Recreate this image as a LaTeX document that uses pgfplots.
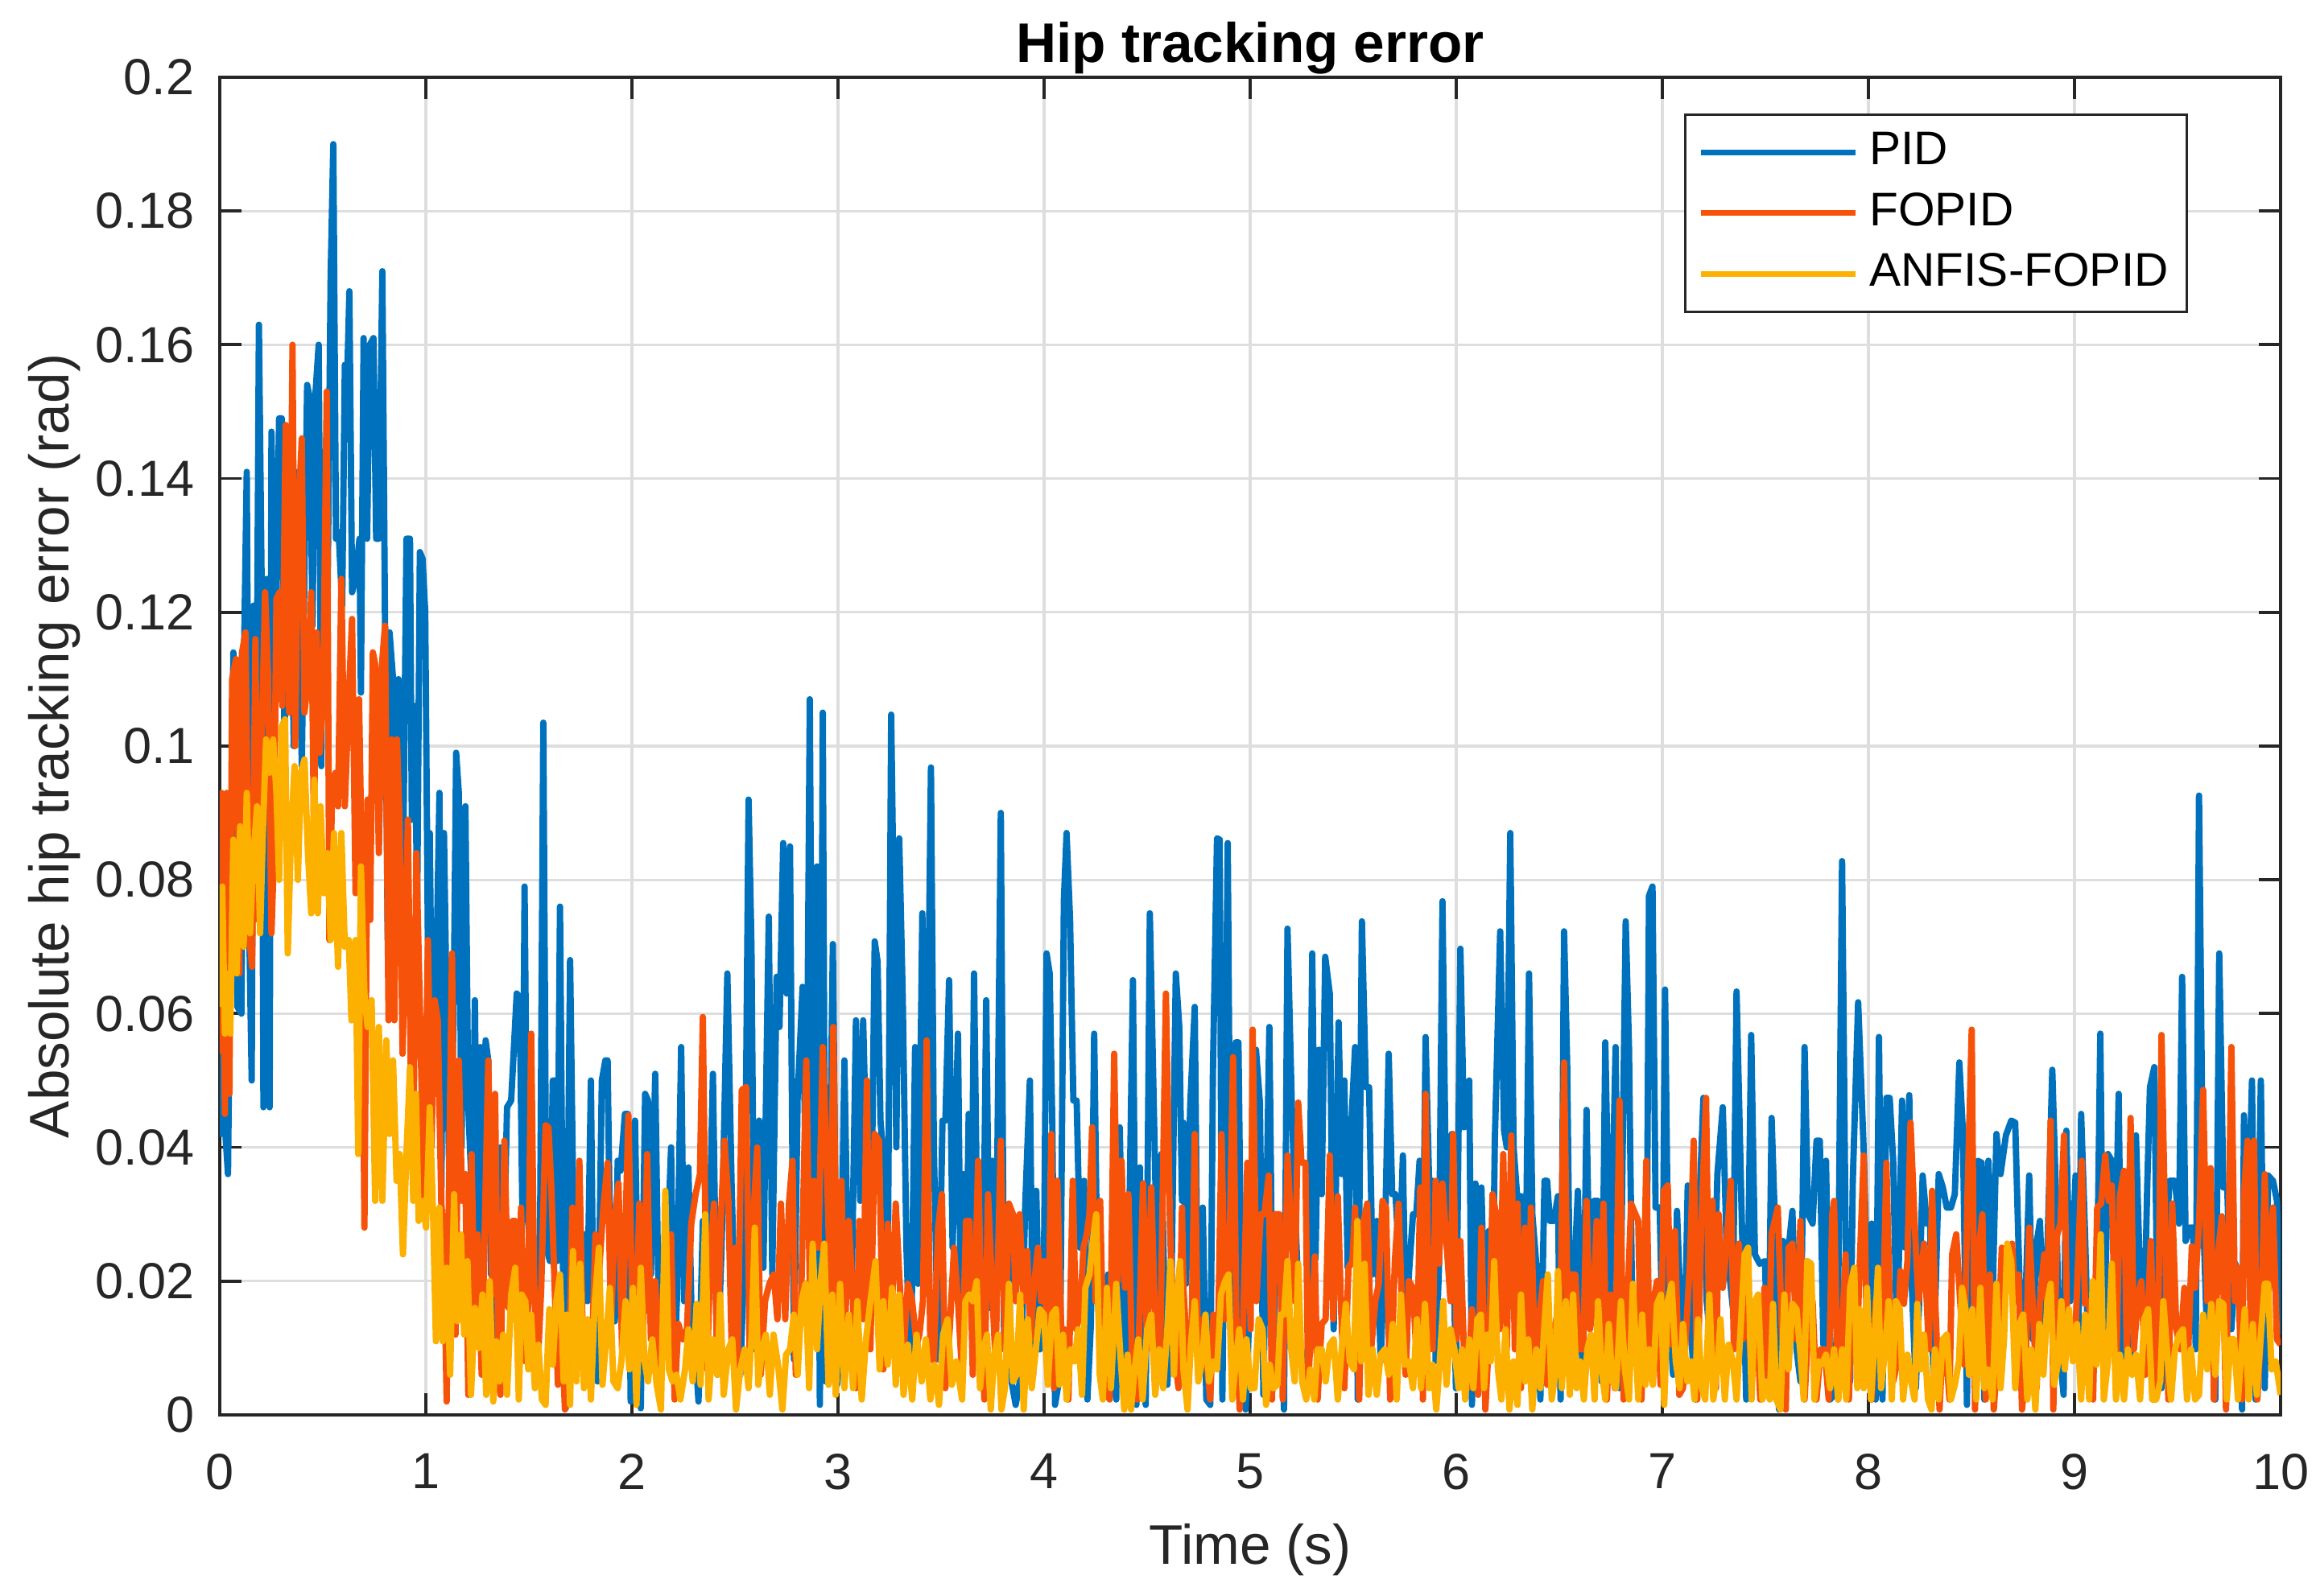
\documentclass[border=0pt]{standalone}
\usepackage{fontspec}
\setmainfont{Liberation Sans}
\usepackage{pgfplots}
\pgfplotsset{compat=1.18}
\usetikzlibrary{calc}
\definecolor{cpid}{RGB}{0,114,189}
\definecolor{cfopid}{RGB}{247,82,10}
\definecolor{canfis}{RGB}{252,176,0}
\definecolor{axgray}{RGB}{38,38,38}
\begin{document}
\begin{tikzpicture}
\begin{axis}[
 scale only axis, width=406.35pt, height=263.8pt,
 xmin=0, xmax=10, ymin=0, ymax=0.2,
 xtick={0,1,...,10},
 ytick={0,0.02,0.04,0.06,0.08,0.1,0.12,0.14,0.16,0.18,0.2},
 scaled y ticks=false,
 /pgf/number format/assume math mode=true,
 yticklabel style={/pgf/number format/fixed,/pgf/number format/precision=2, xshift=-1.5pt},
 xticklabel style={yshift=-4.1pt},
 ticklabel style={font=\fontsize{10}{12}\selectfont, text=axgray},
 tick align=inside, tick pos=both,
 major tick length=4.3pt,
 every tick/.style={axgray, line width=0.6pt},
 axis line style={axgray, line width=0.6pt},
 grid=major,
 major grid style={color=black!13, line width=0.5pt},
 title={Hip tracking error},
 every axis title/.style={at={(axis description cs:0.5,1.0114)}, anchor=base, font=\bfseries\fontsize{11}{13}\selectfont},
 xlabel={Time (s)},
 ylabel={Absolute hip tracking error (rad)},
 xlabel style={at={(axis description cs:0.5,-0.1115)}, anchor=base, font=\fontsize{11}{13}\selectfont, text=axgray},
 ylabel style={at={(axis description cs:-0.0733,0.5)}, anchor=base, font=\fontsize{11}{13}\selectfont, text=axgray},
 legend style={at={(axis description cs:0.955,0.973)}, anchor=north east, draw=axgray, line width=0.5pt, fill=white, font=\fontsize{9.3}{11}\selectfont, inner xsep=2.6pt, inner ysep=2.5pt, row sep=2pt, nodes={inner sep=1pt}},
 legend cell align=left,
 legend image code/.code={\draw[#1, line width=1.15pt] (0pt,0pt) -- (30.5pt,0pt); \path (31.6pt,0pt);},
]
\addplot[cpid, line width=1.25pt, line join=round] coordinates {
(0,0.087)(0.008,0.042)(0.021,0.045)(0.040,0.036)(0.066,0.114)(0.086,0.061)(0.105,0.060)(0.118,0.114)(0.131,0.141)(0.144,0.071)(0.155,0.050)(0.164,0.121)(0.177,0.093)(0.190,0.163)(0.203,0.125)(0.212,0.046)(0.229,0.125)(0.242,0.046)(0.251,0.147)(0.268,0.110)(0.288,0.149)(0.301,0.149)(0.314,0.100)(0.327,0.125)(0.340,0.142)(0.359,0.100)(0.379,0.141)(0.398,0.097)(0.424,0.154)(0.437,0.152)(0.450,0.118)(0.463,0.152)(0.480,0.160)(0.493,0.097)(0.502,0.144)(0.522,0.118)(0.538,0.170)(0.551,0.190)(0.564,0.131)(0.577,0.132)(0.594,0.121)(0.607,0.157)(0.620,0.157)(0.629,0.168)(0.642,0.123)(0.659,0.125)(0.678,0.131)(0.685,0.108)(0.698,0.161)(0.715,0.131)(0.728,0.160)(0.746,0.161)(0.759,0.131)(0.772,0.131)(0.789,0.171)(0.802,0.118)(0.815,0.071)(0.824,0.117)(0.841,0.110)(0.854,0.095)(0.867,0.110)(0.887,0.074)(0.906,0.131)(0.923,0.131)(0.932,0.089)(0.945,0.106)(0.958,0.076)(0.971,0.129)(0.984,0.128)(0.997,0.120)(1.010,0.071)(1.019,0.087)(1.032,0.048)(1.049,0.063)(1.066,0.093)(1.075,0.032)(1.088,0.087)(1.101,0.060)(1.114,0.035)(1.134,0.058)(1.147,0.099)(1.160,0.093)(1.173,0.040)(1.192,0.091)(1.206,0.046)(1.225,0.032)(1.238,0.062)(1.251,0.020)(1.264,0.055)(1.277,0.024)(1.290,0.056)(1.303,0.053)(1.316,0.021)(1.329,0.040)(1.349,0.006)(1.362,0.040)(1.375,0.019)(1.394,0.046)(1.414,0.047)
(1.441,0.063)(1.455,0.0625)(1.469,0.029)(1.479,0.079)(1.493,0.031)(1.511,0.021)(1.532,0.017)(1.553,0.021)(1.570,0.1035)(1.585,0.025)(1.602,0.023)(1.616,0.050)(1.630,0.050)(1.637,0.023)(1.651,0.076)(1.665,0.023)(1.679,0.001)(1.700,0.068)(1.714,0.035)(1.728,0.014)(1.749,0.023)(1.770,0.027)(1.784,0.017)(1.801,0.050)(1.812,0.017)(1.833,0.005)(1.854,0.050)(1.871,0.053)(1.882,0.053)(1.896,0.021)(1.917,0.014)(1.931,0.038)(1.945,0.0365)(1.966,0.045)(1.980,0.045)(1.994,0.002)(2.015,0.044)(2.029,0.017)(2.043,0.001)(2.064,0.048)(2.078,0.047)(2.092,0.021)(2.113,0.051)(2.127,0.021)(2.148,0.017)(2.169,0.022)(2.190,0.040)(2.204,0.0064)(2.218,0.017)(2.239,0.055)(2.253,0.017)(2.274,0.037)(2.288,0.017)(2.309,0.009)(2.323,0.002)(2.344,0.029)(2.365,0.011)(2.393,0.051)(2.414,0.006)(2.435,0.025)(2.463,0.066)(2.484,0.034)(2.505,0.0098)(2.526,0.006)(2.547,0.025)(2.566,0.092)(2.580,0.070)(2.596,0.0098)(2.617,0.044)(2.638,0.022)(2.664,0.0745)(2.681,0.021)(2.702,0.0655)(2.716,0.058)(2.734,0.0855)(2.751,0.063)(2.767,0.085)(2.786,0.0083)(2.804,0.0474)(2.828,0.064)(2.846,0.032)(2.863,0.107)(2.877,0.032)(2.898,0.082)(2.912,0.0015)(2.926,0.105)(2.940,0.005)(2.961,0.036)(2.975,0.0704)(2.996,0.0045)(3.010,0.0098)(3.031,0.053)(3.045,0.027)(3.066,0.018)(3.087,0.059)(3.108,0.032)(3.122,0.059)(3.143,0.032)(3.157,0.017)(3.178,0.0708)(3.192,0.0678)(3.206,0.044)(3.227,0.036)(3.241,0.017)(3.258,0.1047)(3.272,0.0715)(3.283,0.040)(3.297,0.0862)(3.314,0.0625)(3.332,0.025)(3.353,0.005)(3.374,0.055)(3.388,0.0196)(3.409,0.075)(3.430,0.040)(3.451,0.0968)(3.465,0.040)(3.486,0.0083)(3.507,0.044)(3.521,0.044)(3.539,0.065)(3.556,0.025)
(3.582,0.057)(3.595,0.017)(3.608,0.036)(3.621,0.017)(3.634,0.045)(3.647,0.021)(3.660,0.066)(3.680,0.016)(3.699,0.004)(3.719,0.062)(3.736,0.016)(3.749,0.038)(3.764,0.0105)(3.790,0.090)(3.806,0.0098)(3.823,0.030)(3.842,0.005)(3.862,0.0015)(3.888,0.006)(3.908,0.031)(3.931,0.050)(3.947,0.006)(3.962,0.0335)(3.979,0.0098)(3.996,0.0105)(4.012,0.069)(4.027,0.066)(4.040,0.043)(4.053,0.0015)(4.077,0.006)(4.096,0.077)(4.109,0.087)(4.126,0.074)(4.142,0.047)(4.158,0.047)(4.174,0.025)(4.194,0.035)(4.210,0.0023)(4.227,0.0136)(4.243,0.057)(4.259,0.019)(4.279,0.006)(4.296,0.0196)(4.311,0.021)(4.331,0.0068)(4.350,0.0023)(4.367,0.043)(4.383,0.017)(4.402,0.006)(4.431,0.065)(4.448,0.0015)(4.465,0.037)(4.480,0.0075)(4.493,0.0015)(4.513,0.075)(4.533,0.045)(4.552,0.017)(4.569,0.039)(4.585,0.017)(4.598,0.0045)(4.617,0.017)(4.639,0.066)(4.656,0.058)(4.669,0.032)
(4.676,0.0437)(4.689,0.0196)(4.709,0.0463)(4.731,0.061)(4.748,0.006)(4.770,0.031)(4.787,0.0023)(4.806,0.0015)(4.819,0.051)(4.839,0.0862)(4.852,0.086)(4.865,0.0023)(4.891,0.0855)(4.908,0.0113)(4.930,0.0557)(4.943,0.0557)(4.960,0.0098)(4.978,0.0008)(5.008,0.025)(5.028,0.0546)(5.047,0.0467)(5.064,0.003)(5.093,0.058)(5.112,0.004)(5.125,0.0286)(5.145,0.0286)(5.164,0.0008)(5.181,0.0727)(5.203,0.045)(5.220,0.0294)(5.242,0.011)(5.262,0.0068)(5.281,0.006)(5.301,0.069)(5.317,0.0233)(5.334,0.0546)(5.347,0.033)(5.364,0.0685)(5.386,0.063)(5.405,0.0128)(5.429,0.0587)(5.444,0.036)(5.457,0.050)(5.473,0.022)(5.490,0.043)(5.509,0.055)(5.522,0.0023)(5.542,0.0738)(5.561,0.049)(5.577,0.049)(5.594,0.021)(5.614,0.029)(5.633,0.008)(5.653,0.025)(5.672,0.054)(5.689,0.033)(5.705,0.033)(5.724,0.0226)(5.741,0.0388)(5.757,0.008)
(5.770,0.021)(5.790,0.030)(5.806,0.030)(5.822,0.038)(5.835,0.0098)(5.851,0.0565)(5.868,0.035)(5.885,0.035)(5.900,0.008)(5.916,0.022)(5.933,0.0768)(5.952,0.027)(5.978,0.042)(5.998,0.004)(6.020,0.0697)(6.037,0.043)(6.063,0.050)(6.076,0.0015)(6.093,0.0346)(6.109,0.006)(6.122,0.034)(6.141,0.0098)(6.158,0.0275)(6.174,0.0098)(6.187,0.041)(6.213,0.0723)(6.232,0.0425)(6.245,0.040)(6.262,0.087)(6.278,0.040)(6.297,0.032)(6.314,0.0327)(6.333,0.0098)(6.353,0.066)(6.369,0.030)(6.388,0.0226)(6.408,0.0023)(6.428,0.035)(6.441,0.035)(6.454,0.029)(6.473,0.029)(6.493,0.0327)(6.506,0.0023)(6.523,0.0723)(6.538,0.0527)(6.551,0.017)(6.571,0.020)(6.590,0.0335)(6.614,0.004)(6.632,0.0456)(6.649,0.015)(6.668,0.032)(6.688,0.032)(6.705,0.005)(6.723,0.0557)(6.747,0.017)(6.773,0.055)(6.792,0.004)(6.822,0.0738)(6.838,0.055)(6.853,0.017)
(6.863,0.017)(6.883,0.006)(6.899,0.021)(6.922,0.0098)(6.935,0.0776)(6.952,0.079)(6.967,0.031)(6.987,0.031)(7.000,0.0128)(7.013,0.0636)(7.030,0.017)(7.052,0.006)(7.071,0.0305)(7.091,0.0136)(7.108,0.0098)(7.123,0.0343)(7.143,0.0105)(7.160,0.0023)(7.176,0.0286)(7.199,0.0474)(7.215,0.017)(7.243,0.0075)(7.267,0.036)(7.293,0.046)(7.312,0.025)(7.342,0.016)(7.360,0.0633)(7.384,0.031)(7.407,0.0023)(7.431,0.0568)(7.449,0.024)(7.472,0.0226)(7.498,0.023)(7.514,0.0045)(7.530,0.0444)(7.547,0.028)(7.566,0.0008)(7.586,0.026)(7.605,0.0226)(7.631,0.0305)(7.651,0.0098)(7.670,0.005)(7.690,0.055)(7.707,0.030)(7.729,0.0286)(7.748,0.041)(7.764,0.041)(7.781,0.0105)(7.794,0.038)(7.814,0.0023)(7.833,0.003)(7.853,0.017)(7.872,0.0828)(7.892,0.017)(7.911,0.005)(7.924,0.035)(7.950,0.0617)
(7.977,0.0395)(7.996,0.017)(8.016,0.0286)(8.035,0.0023)(8.051,0.0565)(8.068,0.0023)(8.087,0.0474)(8.103,0.0474)(8.120,0.038)(8.139,0.0098)(8.163,0.047)(8.178,0.025)(8.198,0.0478)(8.211,0.0188)(8.230,0.004)(8.246,0.017)(8.263,0.0358)(8.283,0.0286)(8.298,0.030)(8.315,0.006)(8.341,0.036)(8.361,0.034)(8.380,0.031)(8.400,0.031)(8.419,0.033)(8.441,0.0527)(8.458,0.0425)(8.478,0.0015)(8.491,0.0448)(8.510,0.017)(8.530,0.038)(8.549,0.0377)(8.562,0.0023)(8.582,0.038)(8.602,0.017)(8.621,0.042)(8.641,0.036)(8.667,0.0418)(8.693,0.044)(8.712,0.0437)(8.732,0.021)(8.745,0.004)(8.762,0.017)(8.780,0.0358)(8.797,0.0113)(8.816,0.0256)(8.832,0.029)(8.855,0.0098)(8.892,0.0516)(8.908,0.0346)(8.927,0.0098)(8.947,0.003)(8.960,0.0425)(8.979,0.017)(8.992,0.025)(9.005,0.0358)
(9.018,0.0098)(9.032,0.045)(9.051,0.027)(9.071,0.004)(9.090,0.017)(9.110,0.021)(9.125,0.057)(9.142,0.006)(9.162,0.039)(9.181,0.038)(9.197,0.021)(9.214,0.048)(9.231,0.004)(9.246,0.012)(9.266,0.0075)(9.285,0.0105)(9.298,0.0418)(9.318,0.020)(9.338,0.0136)(9.353,0.0346)(9.366,0.049)(9.387,0.052)(9.403,0.0113)(9.422,0.004)(9.442,0.025)(9.461,0.035)(9.487,0.035)(9.507,0.0286)(9.522,0.0655)(9.539,0.026)(9.559,0.028)(9.575,0.028)(9.588,0.0098)(9.604,0.0926)(9.624,0.030)(9.644,0.0105)(9.663,0.020)(9.683,0.0023)(9.702,0.069)(9.722,0.034)(9.741,0.034)(9.761,0.0128)(9.780,0.0226)(9.800,0.021)(9.813,0.0008)(9.822,0.0448)(9.839,0.025)(9.861,0.050)(9.878,0.0023)(9.904,0.050)(9.923,0.004)(9.939,0.0358)(9.963,0.035)(9.982,0.032)(10.0,0.012)
};
\addlegendentry{PID}
\addplot[cfopid, line width=1.25pt, line join=round] coordinates {
(0,0.054)(0.008,0.093)(0.025,0.045)(0.034,0.093)(0.047,0.048)(0.060,0.110)(0.079,0.113)(0.095,0.066)(0.108,0.114)(0.125,0.117)(0.142,0.072)(0.157,0.067)(0.173,0.116)(0.187,0.074)(0.203,0.100)(0.220,0.123)(0.235,0.110)(0.251,0.072)(0.262,0.083)(0.275,0.122)(0.290,0.123)(0.303,0.106)(0.320,0.148)(0.337,0.105)(0.353,0.160)(0.366,0.100)(0.381,0.134)(0.398,0.146)(0.411,0.105)(0.428,0.110)(0.444,0.123)(0.457,0.087)(0.470,0.117)(0.485,0.099)(0.502,0.108)(0.519,0.153)(0.532,0.071)(0.545,0.093)(0.561,0.096)(0.574,0.091)(0.590,0.125)(0.607,0.091)(0.623,0.105)(0.642,0.119)(0.659,0.078)(0.676,0.107)(0.689,0.082)(0.702,0.028)(0.717,0.092)(0.730,0.074)(0.743,0.114)(0.756,0.112)(0.772,0.084)(0.789,0.113)(0.802,0.118)(0.819,0.059)(0.834,0.101)(0.847,0.059)(0.860,0.101)(0.873,0.088)(0.887,0.054)(0.900,0.071)(0.913,0.089)(0.926,0.053)(0.939,0.039)(0.954,0.084)(0.971,0.061)(0.991,0.032)(1.010,0.071)(1.027,0.040)(1.043,0.062)(1.058,0.059)(1.075,0.032)(1.088,0.025)(1.101,0.002)(1.114,0.039)(1.127,0.069)(1.144,0.012)(1.160,0.053)(1.176,0.032)(1.192,0.036)(1.206,0.003)(1.222,0.039)(1.238,0.011)(1.251,0.027)(1.271,0.006)(1.284,0.025)(1.303,0.053)(1.323,0.018)(1.336,0.048)(1.353,0.005)(1.362,0.003)(1.381,0.041)(1.401,0.016)(1.420,0.029)
(1.434,0.029)(1.448,0.0098)(1.462,0.031)(1.483,0.008)(1.497,0.017)(1.511,0.057)(1.525,0.021)(1.539,0.0045)(1.560,0.019)(1.581,0.0433)(1.595,0.043)(1.609,0.034)(1.623,0.021)(1.641,0.0045)(1.658,0.0136)(1.675,0.0008)(1.693,0.004)(1.711,0.031)(1.728,0.0128)(1.745,0.038)(1.763,0.009)(1.784,0.0098)(1.801,0.004)(1.823,0.027)(1.840,0.021)(1.861,0.031)(1.882,0.0377)(1.899,0.0136)(1.917,0.030)(1.935,0.0346)(1.952,0.0098)(1.966,0.025)(1.983,0.0448)(2.001,0.017)(2.019,0.012)(2.036,0.0316)(2.053,0.0098)(2.074,0.039)(2.092,0.0113)(2.113,0.020)(2.134,0.0045)(2.151,0.019)(2.169,0.0098)(2.190,0.027)(2.207,0.0023)(2.225,0.0136)(2.246,0.0113)(2.267,0.0128)(2.288,0.0286)(2.309,0.033)(2.330,0.036)(2.344,0.0595)(2.365,0.0068)(2.379,0.0226)(2.398,0.0316)(2.414,0.0075)(2.431,0.029)(2.449,0.041)(2.468,0.032)(2.484,0.0098)(2.501,0.025)(2.512,0.006)(2.533,0.0486)(2.554,0.049)(2.571,0.0098)(2.590,0.030)(2.608,0.040)(2.625,0.006)(2.646,0.017)(2.667,0.0196)(2.688,0.021)(2.706,0.0143)(2.723,0.0316)(2.744,0.0143)(2.762,0.0316)(2.779,0.038)(2.795,0.006)(2.821,0.017)(2.846,0.053)(2.863,0.019)(2.884,0.035)(2.905,0.025)(2.926,0.055)(2.947,0.036)(2.963,0.017)(2.977,0.058)(2.996,0.0098)(3.017,0.035)(3.031,0.0098)(3.052,0.029)(3.070,0.019)(3.087,0.004)(3.103,0.029)(3.122,0.0143)(3.140,0.050)(3.157,0.0098)(3.178,0.042)(3.199,0.041)(3.220,0.0068)(3.241,0.0286)(3.258,0.0128)(3.280,0.0316)(3.297,0.021)(3.318,0.009)(3.339,0.0196)(3.360,0.017)(3.381,0.0105)(3.395,0.012)(3.412,0.017)(3.430,0.056)(3.448,0.0098)(3.465,0.008)(3.486,0.028)(3.504,0.033)(3.521,0.004)(3.542,0.0128)(3.563,0.025)
(3.582,0.017)(3.602,0.006)(3.621,0.029)(3.637,0.029)(3.654,0.006)(3.680,0.038)(3.697,0.0128)(3.710,0.0023)(3.728,0.033)(3.745,0.021)(3.764,0.008)(3.790,0.041)(3.810,0.0098)(3.829,0.0316)(3.849,0.030)(3.862,0.017)(3.881,0.030)(3.901,0.017)(3.918,0.0245)(3.934,0.0113)(3.953,0.020)(3.970,0.025)(3.986,0.017)(4.001,0.023)(4.018,0.006)(4.035,0.042)(4.048,0.004)(4.064,0.035)(4.083,0.0128)(4.100,0.0128)(4.118,0.0023)(4.139,0.035)(4.155,0.0128)(4.174,0.015)(4.191,0.025)(4.207,0.027)(4.220,0.030)(4.233,0.043)(4.249,0.017)(4.272,0.032)(4.292,0.004)(4.318,0.0023)(4.340,0.054)(4.357,0.020)(4.376,0.038)(4.392,0.019)(4.409,0.033)(4.428,0.006)(4.452,0.0023)(4.480,0.0346)(4.500,0.0098)(4.520,0.034)(4.539,0.0136)(4.561,0.005)(4.591,0.063)(4.611,0.028)(4.630,0.0098)(4.652,0.004)(4.669,0.031)
(4.676,0.019)(4.696,0.008)(4.715,0.0113)(4.731,0.042)(4.748,0.006)(4.770,0.0143)(4.793,0.0068)(4.806,0.0023)(4.822,0.015)(4.843,0.0098)(4.861,0.042)(4.878,0.0143)(4.897,0.021)(4.917,0.0535)(4.934,0.0113)(4.949,0.0008)(4.965,0.0128)(4.986,0.0377)(5.002,0.0128)(5.012,0.0576)(5.030,0.017)(5.051,0.030)(5.069,0.030)(5.090,0.0358)(5.106,0.0023)(5.121,0.030)(5.142,0.030)(5.158,0.0023)(5.181,0.0388)(5.197,0.029)(5.216,0.017)(5.233,0.0467)(5.249,0.0377)(5.268,0.0377)(5.281,0.0045)(5.298,0.0143)(5.314,0.0237)(5.327,0.0023)(5.347,0.0136)(5.366,0.0143)(5.386,0.0388)(5.403,0.0143)(5.425,0.0327)(5.442,0.015)(5.457,0.004)(5.477,0.022)(5.496,0.023)(5.509,0.031)(5.529,0.0023)(5.548,0.0286)(5.568,0.0316)(5.587,0.0098)(5.607,0.017)(5.624,0.0196)(5.642,0.032)(5.659,0.031)(5.679,0.0023)(5.702,0.023)(5.720,0.0316)(5.737,0.0158)(5.754,0.006)
(5.770,0.020)(5.790,0.019)(5.809,0.0075)(5.825,0.034)(5.838,0.0023)(5.851,0.048)(5.868,0.0113)(5.885,0.0098)(5.900,0.035)(5.916,0.0226)(5.933,0.0346)(5.952,0.026)(5.972,0.017)(5.985,0.042)(6.002,0.0113)(6.020,0.026)(6.037,0.0098)(6.056,0.004)(6.076,0.0158)(6.093,0.0098)(6.106,0.003)(6.122,0.028)(6.141,0.0008)(6.161,0.0128)(6.176,0.033)(6.193,0.030)(6.210,0.0128)(6.228,0.039)(6.245,0.0098)(6.267,0.0418)(6.284,0.0098)(6.297,0.0316)(6.314,0.004)(6.333,0.028)(6.349,0.008)(6.362,0.031)(6.382,0.008)(6.402,0.0143)(6.421,0.020)(6.441,0.0045)(6.460,0.008)(6.480,0.0136)(6.506,0.017)(6.523,0.0527)(6.541,0.0136)(6.558,0.021)(6.577,0.021)(6.597,0.0098)(6.616,0.0098)(6.632,0.032)(6.649,0.0128)(6.666,0.017)(6.681,0.029)(6.697,0.0068)(6.714,0.0316)(6.731,0.0023)(6.749,0.018)(6.770,0.004)(6.792,0.047)(6.812,0.0023)(6.827,0.0128)(6.848,0.0316)
(6.883,0.029)(6.899,0.0023)(6.922,0.038)(6.939,0.0068)(6.957,0.017)(6.974,0.020)(6.991,0.0045)(7.006,0.0335)(7.026,0.0343)(7.043,0.0105)(7.061,0.0275)(7.082,0.003)(7.100,0.004)(7.121,0.0158)(7.134,0.023)(7.152,0.041)(7.169,0.0023)(7.189,0.0286)(7.212,0.0474)(7.228,0.0098)(7.243,0.032)(7.260,0.004)(7.273,0.030)(7.293,0.019)(7.312,0.0256)(7.332,0.035)(7.347,0.0098)(7.371,0.0256)(7.390,0.0113)(7.410,0.018)(7.433,0.006)(7.455,0.017)(7.475,0.0023)(7.495,0.019)(7.514,0.005)(7.530,0.027)(7.560,0.031)(7.579,0.0136)(7.599,0.0008)(7.612,0.025)(7.631,0.0256)(7.651,0.0113)(7.670,0.029)(7.690,0.0023)(7.709,0.0136)(7.729,0.017)(7.748,0.0023)(7.768,0.0098)(7.787,0.0098)(7.807,0.0023)(7.824,0.030)(7.833,0.032)(7.853,0.0023)(7.872,0.0128)(7.889,0.024)(7.905,0.0023)(7.924,0.021)(7.944,0.0098)
(7.957,0.022)(7.977,0.0388)(7.993,0.0098)(8.016,0.0023)(8.035,0.017)(8.055,0.0098)(8.072,0.0158)(8.087,0.0377)(8.103,0.017)(8.120,0.005)(8.137,0.0075)(8.155,0.0215)(8.172,0.0166)(8.189,0.023)(8.204,0.0437)(8.224,0.0286)(8.243,0.017)(8.270,0.0256)(8.293,0.0098)(8.309,0.0335)(8.324,0.017)(8.345,0.0008)(8.361,0.0113)(8.376,0.0098)(8.393,0.0023)(8.406,0.024)(8.426,0.027)(8.445,0.017)(8.465,0.0075)(8.480,0.032)(8.501,0.0576)(8.517,0.0008)(8.536,0.025)(8.553,0.030)(8.569,0.0023)(8.589,0.021)(8.608,0.0008)(8.628,0.0098)(8.647,0.025)(8.671,0.019)(8.697,0.0256)(8.712,0.017)(8.728,0.021)(8.745,0.0008)(8.762,0.006)(8.780,0.028)(8.797,0.0166)(8.816,0.004)(8.832,0.017)(8.853,0.024)(8.868,0.0158)(8.884,0.044)(8.897,0.0008)(8.914,0.0267)(8.931,0.0286)(8.949,0.0418)(8.966,0.0098)(8.986,0.0098)(9.005,0.0128)
(9.035,0.038)(9.051,0.0166)(9.071,0.017)(9.090,0.0023)(9.110,0.031)(9.129,0.0316)(9.149,0.0388)(9.166,0.032)(9.181,0.0343)(9.201,0.005)(9.220,0.0327)(9.240,0.0365)(9.253,0.0098)(9.272,0.0444)(9.288,0.0098)(9.309,0.018)(9.324,0.020)(9.344,0.006)(9.370,0.026)(9.390,0.006)(9.403,0.004)(9.422,0.0568)(9.439,0.0286)(9.455,0.0023)(9.474,0.0316)(9.494,0.0128)(9.513,0.0098)(9.533,0.019)(9.552,0.0098)(9.569,0.0252)(9.585,0.019)(9.604,0.0286)(9.624,0.0486)(9.644,0.017)(9.660,0.0369)(9.676,0.0023)(9.696,0.024)(9.715,0.0297)(9.735,0.0008)(9.761,0.055)(9.778,0.017)(9.793,0.022)(9.813,0.0023)(9.822,0.033)(9.839,0.041)(9.856,0.0098)(9.871,0.041)(9.887,0.0023)(9.904,0.012)(9.923,0.036)(9.939,0.017)(9.963,0.031)(9.982,0.0113)(10.0,0.0105)
};
\addlegendentry{FOPID}
\addplot[canfis, line width=1.25pt, line join=round] coordinates {
(0,0.061)(0.012,0.079)(0.025,0.057)(0.038,0.066)(0.051,0.057)(0.066,0.086)(0.082,0.066)(0.099,0.088)(0.116,0.070)(0.131,0.093)(0.147,0.072)(0.164,0.084)(0.181,0.091)(0.196,0.072)(0.209,0.087)(0.225,0.101)(0.242,0.096)(0.259,0.101)(0.275,0.093)(0.288,0.080)(0.301,0.103)(0.317,0.104)(0.330,0.069)(0.346,0.087)(0.363,0.097)(0.379,0.080)(0.394,0.096)(0.411,0.098)(0.428,0.084)(0.444,0.075)(0.459,0.095)(0.476,0.075)(0.489,0.091)(0.506,0.078)(0.522,0.084)(0.538,0.071)(0.554,0.087)(0.574,0.067)(0.590,0.087)(0.607,0.070)(0.626,0.071)(0.639,0.059)(0.659,0.071)(0.672,0.039)(0.685,0.082)(0.702,0.063)(0.717,0.058)(0.737,0.062)(0.754,0.032)(0.772,0.058)(0.789,0.032)(0.808,0.056)(0.824,0.042)(0.841,0.053)(0.858,0.035)(0.873,0.039)(0.889,0.024)(0.906,0.039)(0.923,0.052)(0.939,0.032)(0.952,0.048)(0.965,0.029)(0.984,0.032)(1.001,0.028)(1.019,0.046)(1.036,0.029)(1.049,0.011)(1.066,0.031)(1.082,0.011)(1.101,0.022)(1.118,0.006)(1.137,0.033)(1.153,0.014)(1.170,0.027)(1.186,0.012)(1.202,0.023)(1.219,0.003)(1.238,0.016)(1.258,0.010)(1.275,0.018)(1.293,0.003)(1.310,0.020)(1.327,0.002)(1.342,0.011)(1.358,0.005)(1.375,0.012)(1.394,0.003)(1.414,0.018)
(1.434,0.022)(1.451,0.0023)(1.465,0.018)(1.483,0.017)(1.497,0.0068)(1.511,0.015)(1.529,0.004)(1.546,0.0105)(1.563,0.0023)(1.581,0.0015)(1.599,0.0158)(1.616,0.0075)(1.633,0.017)(1.651,0.021)(1.669,0.005)(1.683,0.015)(1.700,0.0015)(1.714,0.0245)(1.731,0.005)(1.749,0.0226)(1.767,0.004)(1.784,0.0143)(1.801,0.0023)(1.819,0.0166)(1.840,0.025)(1.857,0.0045)(1.875,0.0113)(1.893,0.019)(1.910,0.005)(1.931,0.004)(1.949,0.008)(1.969,0.017)(1.987,0.0068)(2.005,0.019)(2.022,0.0015)(2.043,0.022)(2.061,0.008)(2.078,0.005)(2.099,0.0113)(2.120,0.0045)(2.141,0.0008)(2.162,0.0335)(2.179,0.0068)(2.197,0.005)(2.216,0.006)(2.235,0.0023)(2.258,0.0068)(2.274,0.0128)(2.295,0.005)(2.314,0.0166)(2.333,0.0045)(2.356,0.030)(2.372,0.0023)(2.393,0.0113)(2.414,0.006)(2.428,0.018)(2.445,0.003)(2.468,0.0098)(2.487,0.0113)(2.505,0.0008)(2.526,0.0068)(2.547,0.0098)(2.566,0.004)(2.582,0.0128)(2.596,0.028)(2.613,0.0045)(2.631,0.0098)(2.650,0.012)(2.669,0.003)(2.687,0.012)(2.709,0.0075)(2.730,0.0008)(2.748,0.009)(2.767,0.0098)(2.786,0.015)(2.804,0.006)(2.823,0.017)(2.842,0.0196)(2.860,0.004)(2.877,0.0256)(2.898,0.0098)(2.916,0.020)(2.933,0.0256)(2.954,0.0045)(2.972,0.018)(2.989,0.003)(3.010,0.0196)(3.031,0.004)(3.052,0.015)(3.073,0.004)(3.094,0.017)(3.115,0.0023)(3.136,0.0113)(3.157,0.017)(3.182,0.023)(3.202,0.0068)(3.220,0.017)(3.241,0.0075)(3.262,0.019)(3.280,0.0045)(3.297,0.018)(3.318,0.003)(3.339,0.0105)(3.360,0.0023)(3.381,0.012)(3.406,0.005)(3.426,0.0113)(3.448,0.0023)(3.468,0.0075)(3.490,0.0015)(3.510,0.012)(3.532,0.0143)(3.552,0.0045)(3.574,0.008)
(3.602,0.0023)(3.618,0.017)(3.637,0.018)(3.654,0.017)(3.673,0.020)(3.689,0.004)(3.706,0.0098)(3.723,0.012)(3.741,0.0008)(3.758,0.009)(3.777,0.012)(3.793,0.0008)(3.810,0.004)(3.829,0.0196)(3.849,0.005)(3.866,0.006)(3.884,0.018)(3.901,0.0008)(3.921,0.0143)(3.940,0.004)(3.960,0.0098)(3.979,0.0158)(3.999,0.015)(4.018,0.0045)(4.038,0.015)(4.057,0.0158)(4.074,0.0045)(4.092,0.012)(4.109,0.0023)(4.129,0.0098)(4.148,0.008)(4.165,0.0128)(4.184,0.003)(4.200,0.019)(4.220,0.021)(4.236,0.026)(4.253,0.030)(4.270,0.006)(4.285,0.0023)(4.305,0.019)(4.324,0.004)(4.350,0.0196)(4.370,0.009)(4.389,0.0008)(4.405,0.009)(4.422,0.0008)(4.439,0.0068)(4.457,0.0113)(4.478,0.0023)(4.500,0.0128)(4.520,0.015)(4.539,0.003)(4.559,0.0098)(4.578,0.004)(4.598,0.0128)(4.613,0.023)(4.630,0.006)(4.643,0.017)(4.660,0.023)
(4.676,0.0068)(4.696,0.0008)(4.712,0.0105)(4.731,0.017)(4.748,0.005)(4.767,0.008)(4.783,0.015)(4.800,0.005)(4.819,0.008)(4.839,0.0068)(4.858,0.018)(4.878,0.020)(4.895,0.021)(4.913,0.0023)(4.930,0.008)(4.947,0.0128)(4.965,0.0023)(4.982,0.0113)(5.002,0.004)(5.021,0.004)(5.041,0.0143)(5.060,0.0128)(5.077,0.0015)(5.095,0.0075)(5.112,0.004)(5.132,0.0045)(5.147,0.015)(5.164,0.015)(5.181,0.023)(5.199,0.0098)(5.216,0.005)(5.233,0.0226)(5.252,0.005)(5.272,0.0023)(5.291,0.0068)(5.311,0.0023)(5.327,0.0098)(5.347,0.0098)(5.366,0.005)(5.386,0.0105)(5.405,0.0113)(5.425,0.0023)(5.444,0.0098)(5.464,0.0166)(5.483,0.008)(5.503,0.0068)(5.520,0.029)(5.538,0.008)(5.555,0.0226)(5.574,0.003)(5.594,0.0098)(5.614,0.003)(5.633,0.009)(5.653,0.0098)(5.672,0.006)(5.692,0.0136)(5.711,0.0023)(5.731,0.018)(5.750,0.0075)
(5.770,0.008)(5.790,0.004)(5.809,0.0143)(5.829,0.004)(5.848,0.0166)(5.868,0.004)(5.885,0.0075)(5.903,0.0008)(5.920,0.008)(5.937,0.017)(5.952,0.0045)(5.972,0.0128)(5.991,0.0098)(6.011,0.004)(6.028,0.0098)(6.043,0.0023)(6.063,0.0113)(6.083,0.004)(6.102,0.0143)(6.119,0.015)(6.135,0.004)(6.150,0.012)(6.167,0.008)(6.184,0.023)(6.202,0.0068)(6.219,0.0023)(6.239,0.0128)(6.258,0.0008)(6.278,0.008)(6.297,0.0015)(6.314,0.018)(6.333,0.005)(6.349,0.0113)(6.369,0.0008)(6.388,0.0098)(6.408,0.004)(6.428,0.0136)(6.444,0.021)(6.463,0.0023)(6.480,0.006)(6.493,0.0215)(6.512,0.004)(6.532,0.017)(6.551,0.003)(6.567,0.018)(6.584,0.004)(6.601,0.008)(6.619,0.0023)(6.636,0.0098)(6.653,0.012)(6.671,0.0023)(6.688,0.017)(6.705,0.0068)(6.723,0.0023)(6.740,0.0136)(6.757,0.005)(6.775,0.004)(6.799,0.017)(6.818,0.0068)(6.838,0.0023)(6.857,0.0196)
(6.883,0.0023)(6.902,0.015)(6.918,0.0045)(6.935,0.0098)(6.954,0.0045)(6.974,0.0166)(6.993,0.018)(7.009,0.0015)(7.026,0.017)(7.045,0.0196)(7.065,0.008)(7.084,0.004)(7.100,0.0136)(7.121,0.005)(7.139,0.008)(7.156,0.0023)(7.173,0.0143)(7.191,0.004)(7.208,0.0023)(7.228,0.018)(7.247,0.0023)(7.267,0.0068)(7.282,0.0143)(7.303,0.0023)(7.321,0.0105)(7.342,0.008)(7.360,0.0023)(7.381,0.0136)(7.399,0.024)(7.416,0.025)(7.433,0.0023)(7.449,0.017)(7.465,0.018)(7.485,0.0023)(7.501,0.005)(7.521,0.0023)(7.537,0.0166)(7.553,0.0023)(7.573,0.0008)(7.592,0.018)(7.612,0.0068)(7.631,0.0166)(7.651,0.0158)(7.668,0.0098)(7.686,0.0023)(7.703,0.023)(7.722,0.0226)(7.738,0.0023)(7.759,0.008)(7.774,0.0075)(7.794,0.009)(7.814,0.004)(7.833,0.0098)(7.853,0.0023)(7.872,0.0098)(7.892,0.0023)(7.911,0.019)(7.931,0.022)(7.946,0.004)
(7.957,0.0158)(7.977,0.004)(7.993,0.019)(8.012,0.0023)(8.029,0.0105)(8.046,0.022)(8.061,0.004)(8.081,0.0098)(8.098,0.017)(8.113,0.0023)(8.133,0.017)(8.152,0.0158)(8.168,0.0023)(8.189,0.009)(8.207,0.005)(8.224,0.0023)(8.237,0.0166)(8.254,0.0068)(8.270,0.012)(8.289,0.0023)(8.306,0.0008)(8.322,0.0098)(8.341,0.0023)(8.361,0.0113)(8.380,0.012)(8.400,0.0023)(8.419,0.0045)(8.439,0.008)(8.454,0.019)(8.471,0.0158)(8.488,0.006)(8.504,0.0158)(8.523,0.0023)(8.543,0.019)(8.562,0.004)(8.579,0.0068)(8.602,0.0023)(8.621,0.0196)(8.641,0.004)(8.658,0.0113)(8.673,0.0256)(8.693,0.023)(8.712,0.004)(8.732,0.0136)(8.751,0.015)(8.771,0.0023)(8.790,0.0098)(8.810,0.0008)(8.829,0.0136)(8.849,0.006)(8.868,0.017)(8.884,0.0196)(8.901,0.0045)(8.921,0.008)(8.936,0.017)(8.953,0.0068)(8.973,0.0158)(8.992,0.008)
(9.012,0.0136)(9.032,0.0023)(9.051,0.015)(9.071,0.0023)(9.088,0.020)(9.106,0.0075)(9.127,0.027)(9.142,0.0023)(9.162,0.008)(9.181,0.0226)(9.201,0.0023)(9.220,0.009)(9.240,0.0023)(9.259,0.0098)(9.279,0.006)(9.298,0.009)(9.318,0.0023)(9.338,0.0143)(9.357,0.0158)(9.377,0.0023)(9.396,0.0023)(9.416,0.005)(9.431,0.017)(9.448,0.0098)(9.468,0.0023)(9.487,0.0098)(9.507,0.012)(9.526,0.0128)(9.546,0.0023)(9.565,0.0098)(9.585,0.0023)(9.604,0.003)(9.624,0.015)(9.644,0.0068)(9.663,0.0166)(9.683,0.006)(9.702,0.017)(9.722,0.0166)(9.739,0.0023)(9.757,0.0113)(9.774,0.0113)(9.793,0.0023)(9.809,0.009)(9.826,0.0158)(9.845,0.0023)(9.865,0.0136)(9.884,0.003)(9.904,0.012)(9.923,0.0196)(9.939,0.0196)(9.956,0.0068)(9.976,0.008)(10.0,0.003)
};
\addlegendentry{ANFIS-FOPID}
\end{axis}
\pgfresetboundingbox
\path[use as bounding box] ($(current axis.south west)+(-43.33pt,-35.71pt)$) rectangle ($(current axis.north east)+(6.98pt,15.24pt)$);
\end{tikzpicture}
\end{document}
